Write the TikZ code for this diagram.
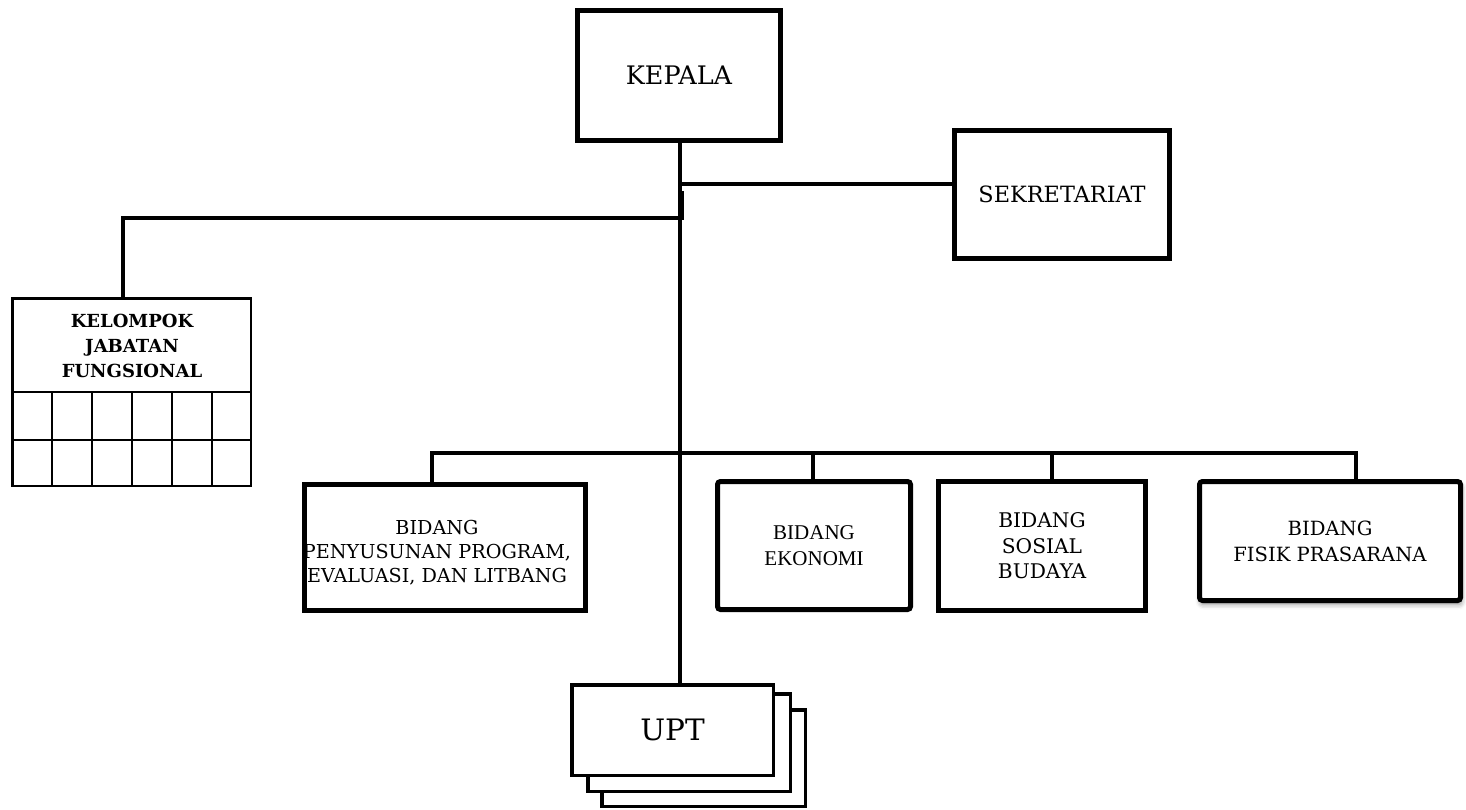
\documentclass[tikz,border=0pt]{standalone}
\usepackage{fontspec}
\setmainfont{DejaVu Serif}
\newfontfamily\timesf{Liberation Serif}
\usetikzlibrary{shadows.blur}
\begin{document}
\begin{tikzpicture}[x=1pt,y=-1pt,
  unitbox/.style={draw=black,line width=5pt,fill=white,inner sep=0pt,align=center},
  link/.style={draw=black,line width=4pt,line cap=rect},
  uptbox/.style={draw=black,line width=3.5pt,fill=white,inner sep=0pt,minimum width=202pt},
  gridline/.style={draw=black,line width=2.5pt}]
\useasboundingbox (0,0) rectangle (1466,809);

% top level
\node[unitbox,minimum width=203pt,minimum height=130pt,font=\fontsize{25.5}{30}\selectfont]
  (kepala) at (679,75.5) {KEPALA};
\node[unitbox,minimum width=215pt,minimum height=128pt,font=\fontsize{22.4}{26}\selectfont]
  (sek) at (1062,194.5) {SEKRETARIAT};

% functional group with its grid of cells
\node[draw=black,line width=2.5pt,fill=white,minimum width=238.5pt,minimum height=187.5pt,inner sep=0pt]
  (kjf) at (131.5,392) {};
\node[font=\fontsize{18}{25}\selectfont\bfseries,align=center] (kjft) at (132,346)
  {KELOMPOK\\JABATAN\\FUNGSIONAL};
\foreach \yy in {392,440} \draw[gridline] (11,\yy) -- (252,\yy);
\foreach \xx in {52,92,132,172,212} \draw[gridline] (\xx,392) -- (\xx,487);

% divisions
\node[unitbox,minimum width=281pt,minimum height=126pt] (bpp) at (445,547.5) {};
\node[font=\fontsize{19.2}{24}\selectfont,align=center] (bppt) at (437,553)
  {BIDANG\\PENYUSUNAN PROGRAM,\\EVALUASI, DAN LITBANG};
\node[unitbox,rounded corners=3pt,minimum width=193pt,minimum height=128pt,
  font=\timesf\fontsize{21}{26}\selectfont] (eko) at (814,545.5) {BIDANG\\EKONOMI};
\node[unitbox,minimum width=207pt,minimum height=129pt,
  font=\fontsize{20.2}{25.5}\selectfont] (sos) at (1042,546) {BIDANG\\SOSIAL\\BUDAYA};
\node[unitbox,rounded corners=3pt,minimum width=261pt,minimum height=119pt,
  font=\fontsize{19.6}{26}\selectfont,
  blur shadow={shadow xshift=1pt,shadow yshift=-4pt,shadow blur radius=5pt,shadow opacity=45}]
  (fis) at (1330,541) {BIDANG\\FISIK PRASARANA};

% technical units, stacked
\node[uptbox,minimum width=203.5pt,minimum height=96.5pt] (upt3) at (703.5,758) {};
\node[uptbox,minimum width=202.5pt,minimum height=97.5pt] (upt2) at (689,742.5) {};
\node[uptbox,minimum width=201.5pt,minimum height=90.5pt,font=\fontsize{29.5}{34}\selectfont]
  (upt) at (672.5,730) {UPT};

% connectors
\coordinate (jsek) at (680,184);
\coordinate (jkjf) at (682,193);
\draw[link] (kepala.south -| 680,0) -- (680,684);
\draw[link] (jsek) -- (jsek -| sek.west);
\draw[link] (jkjf) -- (682,218) -- (123,218) -- (123,297);
\draw[link] (432,453) -- (1356,453);
\draw[link] (432,453) -- (432,482);
\draw[link] (813,453) -- (813,479);
\draw[link] (1052,453) -- (1052,478);
\draw[link] (1356,453) -- (1356,479);
\end{tikzpicture}
\end{document}
